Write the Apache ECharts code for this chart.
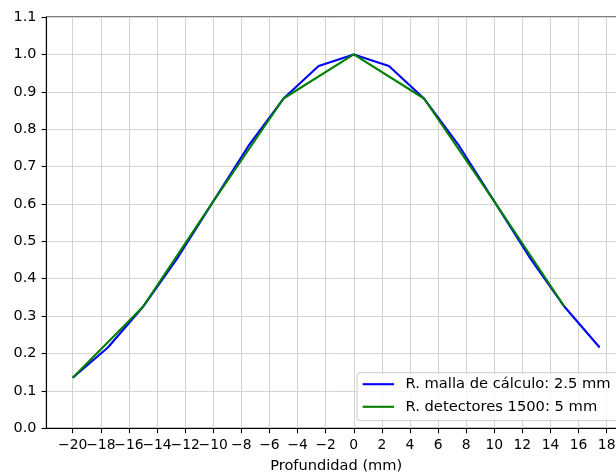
<!DOCTYPE html>
<html>
<head>
<meta charset="utf-8">
<script src="https://cdn.jsdelivr.net/npm/echarts@6/dist/echarts.min.js"></script>
<style>
  html, body { margin: 0; padding: 0; background: #fff; }
  #chart { width: 616px; height: 472px; }
</style>
</head>
<body>
<div id="chart"></div>
<script>
// Depth profile sampled on the 2.5 mm calculation grid
const depthFine = [-20, -17.5, -15, -12.5, -10, -7.5, -5, -2.5, 0, 2.5, 5, 7.5, 10, 12.5, 15, 17.5];
const doseFine = [0.135, 0.216, 0.325, 0.458, 0.607, 0.755, 0.882, 0.969, 1.0, 0.969, 0.882, 0.755, 0.607, 0.458, 0.325, 0.216];

// Same profile sampled by the 1500 detector array (5 mm spacing)
const depthCoarse = [-20, -15, -10, -5, 0, 5, 10, 15];
const doseCoarse = [0.135, 0.325, 0.607, 0.882, 1.0, 0.882, 0.607, 0.325];

// Axis ticks
const xTicks = [-20, -18, -16, -14, -12, -10, -8, -6, -4, -2, 0, 2, 4, 6, 8, 10, 12, 14, 16, 18];
const yTicks = [0.0, 0.1, 0.2, 0.3, 0.4, 0.5, 0.6, 0.7, 0.8, 0.9, 1.0, 1.1];

const seriesNames = ['R. malla de cálculo: 2.5 mm', 'R. detectores 1500: 5 mm'];

const zip = (xs, ys) => xs.map((x, i) => [x, ys[i]]);
const font = 'DejaVu Sans';
const fs = 14.4;
const gridColor = '#d3d3d3';
const xMin = -21.875, xMax = 19.375;

// The minus-sign labels are wider than the tick spacing, so they are split over two
// overlaid bottom axes (alternate ticks) to keep every label visible.
const xLabelsA = xTicks.filter((_, i) => i % 2 === 0);
const xLabelsB = xTicks.filter((_, i) => i % 2 === 1);
const fmtX = v => String(v).replace('-', '\u2212');
const xLabelStyle = {
  hideOverlap: false, showMinLabel: true, showMaxLabel: true,
  margin: 10, fontFamily: font, fontSize: 13.9, color: '#000', formatter: fmtX
};

const chart = echarts.init(document.getElementById('chart'), null, { renderer: 'canvas' });
chart.setOption({
  animation: false,
  backgroundColor: '#ffffff',
  textStyle: { fontFamily: font },
  grid: {
    left: 46.4, right: -10, top: 17, bottom: 43.7,
    outerBoundsMode: 'none',
    containLabel: false,
    show: true, borderColor: '#000', borderWidth: 1.1, backgroundColor: 'transparent'
  },
  legend: {
    orient: 'vertical',
    left: 357, top: 372.7,
    padding: [3.5, 8, 5.9, 5.7],
    itemGap: 6.6,
    itemWidth: 31.3, itemHeight: 2.1,
    icon: 'rect',
    backgroundColor: 'rgba(255,255,255,0.8)',
    borderColor: '#cccccc', borderWidth: 1, borderRadius: 3,
    textStyle: { fontFamily: font, fontSize: 14.7, color: '#000', lineHeight: 16, padding: [0, 0, 0, 6.5] },
    data: seriesNames
  },
  xAxis: [
    {
      type: 'value',
      position: 'bottom',
      min: xMin, max: xMax,
      name: 'Profundidad (mm)',
      nameLocation: 'middle',
      nameGap: 30,
      nameTextStyle: { fontFamily: font, fontSize: 14.6, color: '#000' },
      axisLine: { show: true, onZero: false, lineStyle: { color: '#000', width: 1.1 } },
      axisTick: { show: true, inside: false, length: 4.9, customValues: xTicks, lineStyle: { color: '#000', width: 1.1 } },
      axisLabel: Object.assign({ customValues: xLabelsA }, xLabelStyle),
      splitLine: { show: true, lineStyle: { color: gridColor, width: 1 } }
    },
    {
      type: 'value',
      position: 'bottom',
      offset: 0,
      min: xMin, max: xMax,
      axisLine: { show: false, onZero: false },
      axisTick: { show: false },
      axisLabel: Object.assign({ customValues: xLabelsB }, xLabelStyle),
      splitLine: { show: false }
    }
  ],
  yAxis: {
    type: 'value',
    min: 0, max: 1.1, interval: 0.1,
    axisLine: { show: true, onZero: false, lineStyle: { color: '#000', width: 1.1 } },
    axisTick: { show: true, inside: false, length: 4.9, customValues: yTicks, lineStyle: { color: '#000', width: 1.1 } },
    axisLabel: {
      customValues: yTicks,
      hideOverlap: false,
      margin: 10,
      fontFamily: font, fontSize: fs, color: '#000',
      formatter: v => v.toFixed(1)
    },
    splitLine: { show: true, lineStyle: { color: gridColor, width: 1 } }
  },
  series: [
    {
      name: seriesNames[0],
      type: 'line',
      xAxisIndex: 0,
      data: zip(depthFine, doseFine),
      showSymbol: false, symbol: 'none',
      itemStyle: { color: '#0000ff' },
      lineStyle: { color: '#0000ff', width: 2.1 },
      z: 2
    },
    {
      name: seriesNames[1],
      type: 'line',
      xAxisIndex: 0,
      data: zip(depthCoarse, doseCoarse),
      showSymbol: false, symbol: 'none',
      itemStyle: { color: '#008000' },
      lineStyle: { color: '#008000', width: 2.1 },
      z: 3
    }
  ]
});
</script>
</body>
</html>
